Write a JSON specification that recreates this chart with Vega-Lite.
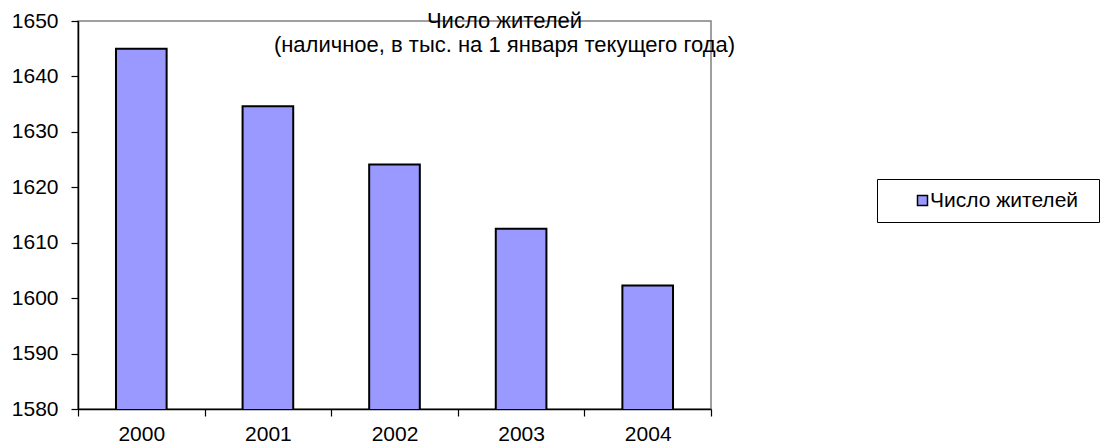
{
  "$schema": "https://vega.github.io/schema/vega-lite/v6.json",
  "autosize": "none",
  "width": 633,
  "height": 388,
  "padding": {"left": 78, "top": 21, "right": 393, "bottom": 36},
  "background": "white",
  "config": {
    "font": "Liberation Sans",
    "view": {"stroke": "#808080", "strokeWidth": 1.5},
    "axis": {"grid": false, "domainColor": "black", "tickColor": "black", "labelColor": "black", "labelFont": "Liberation Sans", "labelFontSize": 21, "domainWidth": 1.5, "tickWidth": 1.2, "tickSize": 7}
  },
  "title": {
    "text": ["Число жителей", "(наличное, в тыс. на 1 января текущего года)"],
    "orient": "top",
    "anchor": "middle",
    "frame": "group",
    "offset": -9,
    "dy": 38,
    "dx": 110,
    "fontSize": 22,
    "fontWeight": "normal",
    "font": "Liberation Sans",
    "color": "black",
    "lineHeight": 24
  },
  "data": {
    "values": [
      {"year": "2000", "value": 1645.0, "series": "Число жителей"},
      {"year": "2001", "value": 1634.6, "series": "Число жителей"},
      {"year": "2002", "value": 1624.1, "series": "Число жителей"},
      {"year": "2003", "value": 1612.5, "series": "Число жителей"},
      {"year": "2004", "value": 1602.3, "series": "Число жителей"}
    ]
  },
  "mark": {"type": "bar", "stroke": "black", "strokeWidth": 2, "clip": true, "width": {"band": 0.4}},
  "encoding": {
    "x": {
      "field": "year", "type": "ordinal", "title": null,
      "scale": {"paddingInner": 0, "paddingOuter": 0},
      "axis": {"labelAngle": 0, "tickBand": "extent", "labelPadding": 7}
    },
    "y": {
      "field": "value", "type": "quantitative", "title": null,
      "scale": {"domain": [1580, 1650], "nice": false, "zero": false},
      "axis": {"values": [1580, 1590, 1600, 1610, 1620, 1630, 1640, 1650], "format": "d", "labelPadding": 13}
    },
    "fill": {
      "field": "series", "type": "nominal",
      "scale": {"range": ["#9999ff"]},
      "legend": {
        "title": "\u00a0",
        "titleOrient": "right",
        "titleFontSize": 2,
        "titlePadding": 10,
        "orient": "none",
        "legendX": 799,
        "legendY": 158,
        "strokeColor": "black",
        "fillColor": "white",
        "padding": 11,
        "symbolType": "square",
        "symbolSize": 100,
        "symbolStrokeColor": "black",
        "symbolStrokeWidth": 1.5,
        "symbolOffset": 24,
        "labelFontSize": 21,
        "labelFont": "Liberation Sans",
        "labelColor": "black",
        "labelOffset": -3
      }
    }
  }
}
